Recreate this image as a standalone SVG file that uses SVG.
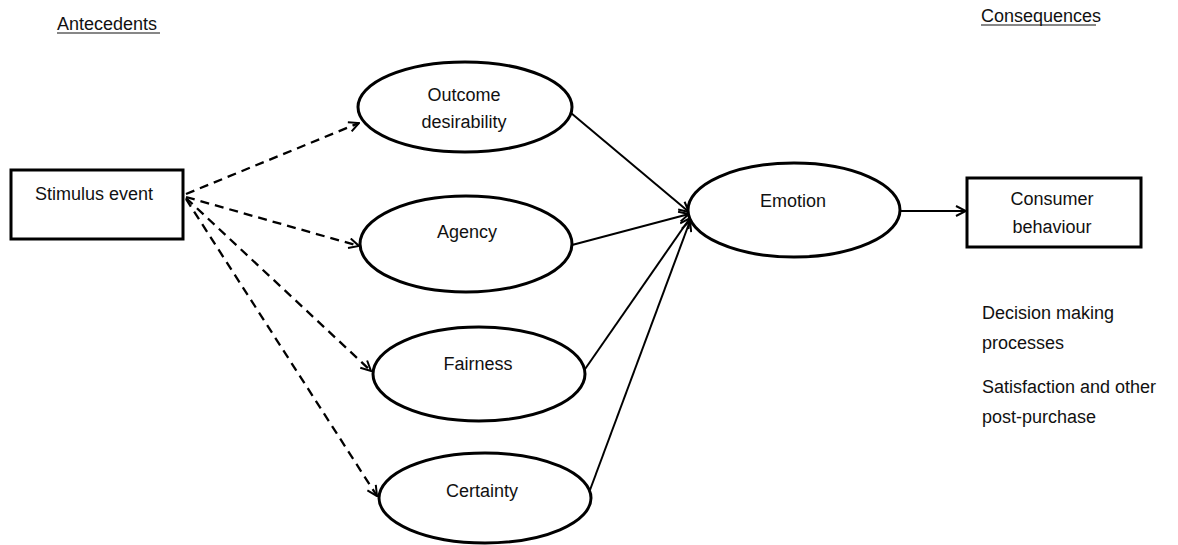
<svg xmlns="http://www.w3.org/2000/svg" width="1178" height="545" viewBox="0 0 1178 545">
<style>
text{font-family:"Liberation Sans",Arial,sans-serif;font-size:18px;fill:#111}
.c{text-anchor:middle}
.shape{fill:#fff;stroke:#000;stroke-width:3}
.dash{stroke:#000;stroke-width:2.3;fill:none;stroke-dasharray:9 6;marker-end:url(#ah)}
.solid{stroke:#000;stroke-width:2;fill:none;marker-end:url(#ah)}
.ul{stroke:#111;stroke-width:1.2}
</style>
<defs>
<marker id="ah" viewBox="0 0 12 12" refX="11" refY="6" markerWidth="12" markerHeight="12" markerUnits="userSpaceOnUse" orient="auto">
<path d="M1,1 L11,6 L1,11" fill="none" stroke="#000" stroke-width="2"/>
</marker>
</defs>
<g id="labels">
<text x="57" y="30">Antecedents</text>
<line class="ul" x1="57" y1="33" x2="160" y2="33"/>
<text x="981" y="22">Consequences</text>
<line class="ul" x1="981" y1="25" x2="1096" y2="25"/>
<text x="982" y="319">Decision making</text>
<text x="982" y="349">processes</text>
<text x="982" y="393">Satisfaction and other</text>
<text x="982" y="423">post-purchase</text>
</g>
<g id="connectors">
<path class="dash" d="M186,194 L359,123"/>
<path class="dash" d="M186,197 L359,246"/>
<path class="dash" d="M186,198 L371,371"/>
<path class="dash" d="M186,199 L377,496"/>
<path class="solid" d="M571,113 L689,212"/>
<path class="solid" d="M572,245 L689,214"/>
<path class="solid" d="M583,372 L690,218"/>
<path class="solid" d="M590,490 L690,221"/>
<path class="solid" d="M901,211 L966,211"/>
</g>
<g id="stimulus">
<rect class="shape" x="11" y="170" width="172" height="69"/>
<text x="35" y="200">Stimulus event</text>
</g>
<g id="outcome">
<ellipse class="shape" cx="465" cy="107" rx="107" ry="45"/>
<text class="c" x="464" y="101">Outcome</text>
<text class="c" x="464" y="128">desirability</text>
</g>
<g id="agency">
<ellipse class="shape" cx="466" cy="244" rx="106" ry="48"/>
<text class="c" x="467" y="238">Agency</text>
</g>
<g id="fairness">
<ellipse class="shape" cx="479" cy="374" rx="106" ry="47"/>
<text class="c" x="478" y="370">Fairness</text>
</g>
<g id="certainty">
<ellipse class="shape" cx="485" cy="498" rx="106" ry="45"/>
<text class="c" x="482" y="497">Certainty</text>
</g>
<g id="emotion">
<ellipse class="shape" cx="794" cy="210" rx="106" ry="47"/>
<text class="c" x="793" y="207">Emotion</text>
</g>
<g id="consumer">
<rect class="shape" x="967" y="178" width="174" height="69"/>
<text class="c" x="1052" y="205">Consumer</text>
<text class="c" x="1052" y="233">behaviour</text>
</g>
</svg>
